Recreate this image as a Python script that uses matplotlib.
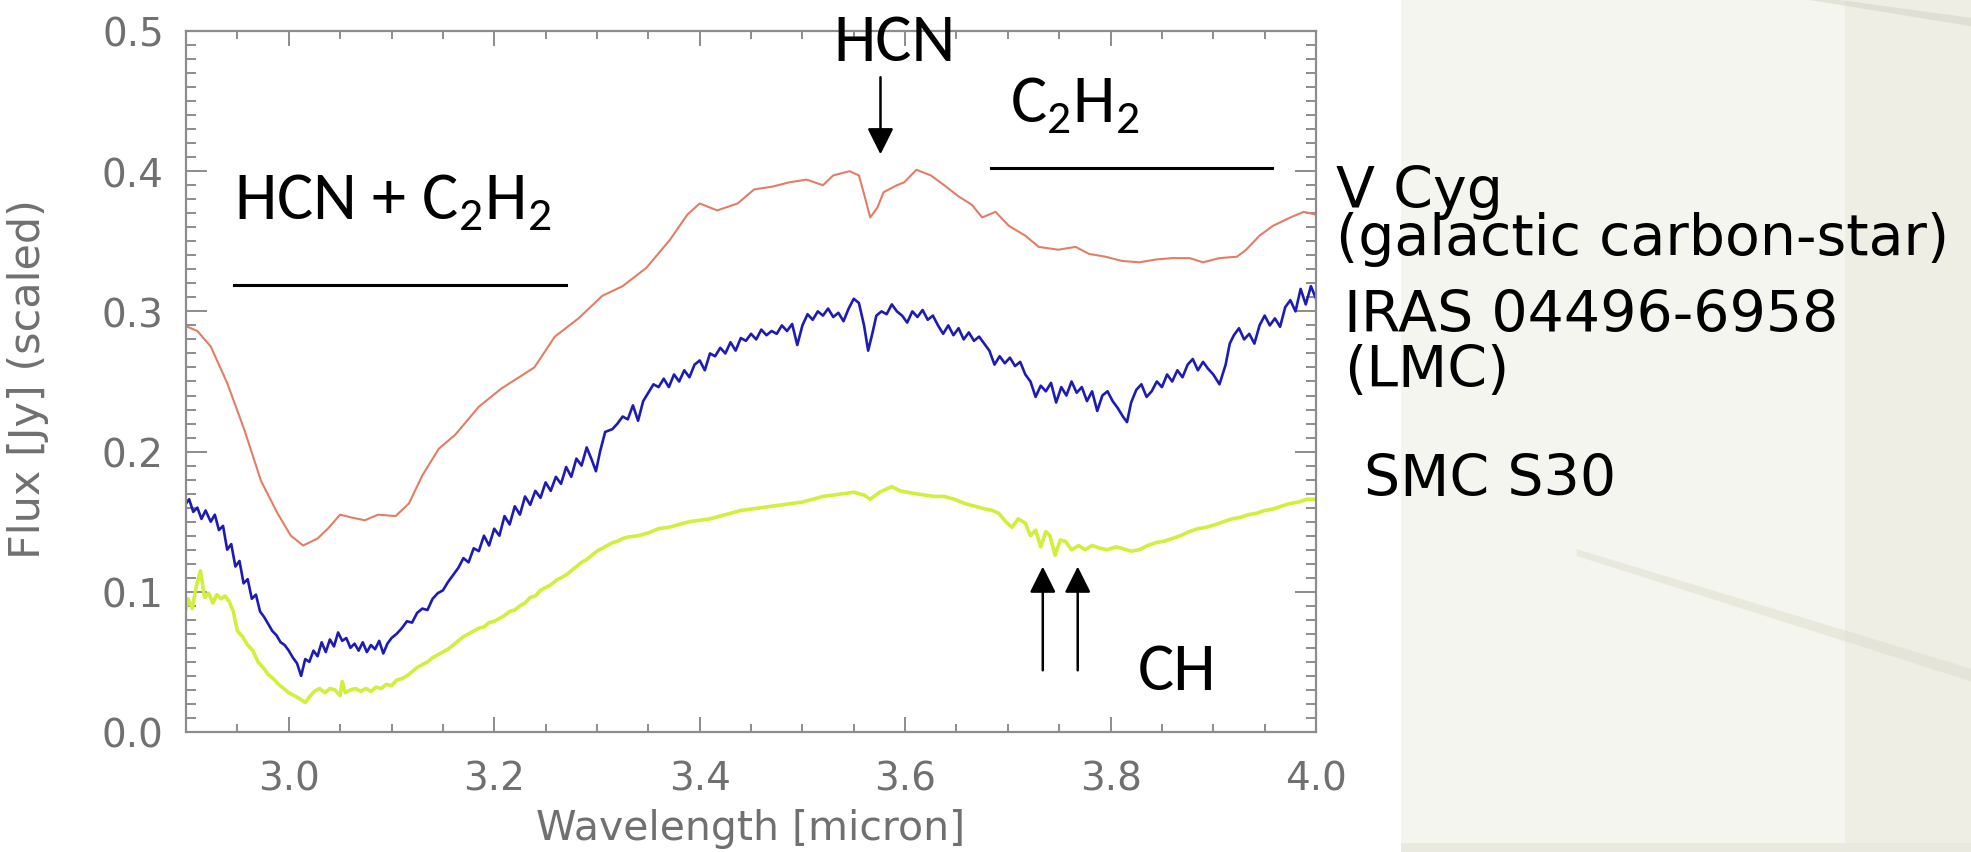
import matplotlib
matplotlib.use('Agg')
import matplotlib.pyplot as plt
from matplotlib.patches import Rectangle, Polygon
from matplotlib.ticker import MultipleLocator

# V Cyg (galactic carbon star)
vcyg_wave = [2.898, 2.911, 2.924, 2.94, 2.957, 2.973, 2.989, 3.002, 3.014, 3.028,
             3.038, 3.05, 3.061, 3.074, 3.087, 3.104, 3.117, 3.13, 3.146, 3.162,
             3.185, 3.207, 3.239, 3.259, 3.282, 3.305, 3.325, 3.348, 3.371, 3.388,
             3.4, 3.417, 3.437, 3.453, 3.471, 3.487, 3.504, 3.52, 3.53, 3.546,
             3.555, 3.561, 3.566, 3.573, 3.579, 3.592, 3.599, 3.611, 3.625, 3.638,
             3.652, 3.665, 3.675, 3.688, 3.701, 3.717, 3.73, 3.749, 3.766, 3.779,
             3.795, 3.811, 3.828, 3.844, 3.86, 3.877, 3.89, 3.906, 3.923, 3.932,
             3.945, 3.958, 3.975, 3.988, 4.0]
vcyg_flux = [0.290, 0.286, 0.275, 0.249, 0.215, 0.179, 0.156, 0.140, 0.133, 0.138,
             0.145, 0.155, 0.153, 0.151, 0.155, 0.154, 0.163, 0.183, 0.202, 0.212,
             0.232, 0.245, 0.260, 0.282, 0.295, 0.311, 0.318, 0.331, 0.351, 0.369,
             0.377, 0.372, 0.377, 0.387, 0.389, 0.392, 0.394, 0.390, 0.397, 0.400,
             0.397, 0.381, 0.367, 0.374, 0.385, 0.390, 0.392, 0.401, 0.397, 0.390,
             0.382, 0.376, 0.367, 0.371, 0.361, 0.354, 0.346, 0.344, 0.346, 0.341,
             0.339, 0.336, 0.335, 0.337, 0.338, 0.338, 0.335, 0.338, 0.339, 0.344,
             0.354, 0.361, 0.367, 0.371, 0.369]

# IRAS 04496-6958 (LMC)
lmc_wave = [2.898, 2.903, 2.907, 2.911, 2.915, 2.919, 2.924, 2.928, 2.932, 2.936,
            2.940, 2.944, 2.948, 2.952, 2.956, 2.960, 2.964, 2.968, 2.972, 2.976,
            2.980, 2.984, 2.988, 2.992, 2.996, 3.000, 3.004, 3.008, 3.012, 3.016,
            3.020, 3.024, 3.028, 3.032, 3.036, 3.040, 3.044, 3.048, 3.052, 3.056,
            3.060, 3.064, 3.068, 3.072, 3.076, 3.080, 3.084, 3.088, 3.092, 3.096,
            3.100, 3.105, 3.110, 3.115, 3.120, 3.125, 3.130, 3.135, 3.140, 3.145,
            3.150, 3.155, 3.160, 3.165, 3.170, 3.175, 3.180, 3.185, 3.190, 3.195,
            3.200, 3.205, 3.210, 3.215, 3.220, 3.225, 3.230, 3.235, 3.240, 3.245,
            3.250, 3.255, 3.260, 3.265, 3.270, 3.275, 3.280, 3.285, 3.290, 3.295,
            3.299, 3.303, 3.308, 3.315, 3.320, 3.325, 3.330, 3.335, 3.340, 3.345,
            3.350, 3.355, 3.360, 3.365, 3.370, 3.375, 3.380, 3.385, 3.390, 3.395,
            3.400, 3.405, 3.410, 3.415, 3.420, 3.425, 3.430, 3.435, 3.440, 3.445,
            3.450, 3.455, 3.460, 3.465, 3.470, 3.475, 3.480, 3.485, 3.490, 3.495,
            3.500, 3.505, 3.510, 3.515, 3.520, 3.525, 3.530, 3.535, 3.540, 3.545,
            3.550, 3.555, 3.560, 3.564, 3.568, 3.572, 3.577, 3.582, 3.587, 3.592,
            3.597, 3.602, 3.607, 3.612, 3.617, 3.622, 3.627, 3.632, 3.637, 3.642,
            3.647, 3.652, 3.657, 3.662, 3.667, 3.672, 3.677, 3.682, 3.687, 3.692,
            3.697, 3.702, 3.707, 3.712, 3.717, 3.722, 3.727, 3.732, 3.737, 3.742,
            3.747, 3.752, 3.757, 3.762, 3.767, 3.772, 3.777, 3.782, 3.787, 3.792,
            3.797, 3.802, 3.807, 3.812, 3.816, 3.820, 3.825, 3.830, 3.835, 3.840,
            3.845, 3.850, 3.855, 3.860, 3.865, 3.870, 3.875, 3.880, 3.885, 3.890,
            3.895, 3.900, 3.906, 3.912, 3.916, 3.920, 3.925, 3.930, 3.935, 3.940,
            3.945, 3.950, 3.955, 3.960, 3.965, 3.970, 3.975, 3.980, 3.985, 3.990,
            3.995, 4.000]
lmc_flux = [0.161, 0.166, 0.157, 0.160, 0.152, 0.158, 0.150, 0.155, 0.144, 0.147,
            0.130, 0.134, 0.118, 0.122, 0.106, 0.109, 0.095, 0.098, 0.086, 0.082,
            0.077, 0.072, 0.069, 0.064, 0.062, 0.058, 0.053, 0.049, 0.040, 0.052,
            0.050, 0.058, 0.054, 0.064, 0.057, 0.066, 0.061, 0.071, 0.065, 0.067,
            0.060, 0.063, 0.058, 0.064, 0.057, 0.062, 0.059, 0.065, 0.056, 0.063,
            0.067, 0.070, 0.074, 0.079, 0.078, 0.085, 0.088, 0.087, 0.095, 0.099,
            0.101, 0.107, 0.112, 0.117, 0.124, 0.121, 0.131, 0.129, 0.140, 0.133,
            0.145, 0.140, 0.154, 0.148, 0.161, 0.155, 0.168, 0.162, 0.172, 0.167,
            0.178, 0.172, 0.182, 0.177, 0.189, 0.182, 0.195, 0.190, 0.203, 0.194,
            0.186, 0.200, 0.214, 0.216, 0.220, 0.225, 0.223, 0.233, 0.222, 0.236,
            0.242, 0.248, 0.246, 0.252, 0.246, 0.255, 0.250, 0.258, 0.253, 0.262,
            0.265, 0.258, 0.270, 0.268, 0.274, 0.270, 0.278, 0.272, 0.281, 0.279,
            0.284, 0.280, 0.287, 0.283, 0.286, 0.284, 0.290, 0.286, 0.291, 0.276,
            0.290, 0.298, 0.294, 0.300, 0.297, 0.302, 0.296, 0.299, 0.293, 0.302,
            0.309, 0.306, 0.290, 0.272, 0.284, 0.297, 0.300, 0.298, 0.305, 0.300,
            0.297, 0.292, 0.300, 0.296, 0.301, 0.294, 0.297, 0.290, 0.284, 0.290,
            0.283, 0.288, 0.280, 0.285, 0.279, 0.282, 0.277, 0.272, 0.262, 0.268,
            0.263, 0.267, 0.261, 0.264, 0.255, 0.250, 0.239, 0.247, 0.243, 0.249,
            0.235, 0.246, 0.240, 0.250, 0.242, 0.246, 0.236, 0.243, 0.229, 0.240,
            0.243, 0.236, 0.231, 0.225, 0.221, 0.235, 0.244, 0.248, 0.239, 0.243,
            0.250, 0.246, 0.255, 0.250, 0.258, 0.253, 0.262, 0.266, 0.258, 0.264,
            0.259, 0.255, 0.248, 0.262, 0.277, 0.283, 0.288, 0.280, 0.284, 0.277,
            0.290, 0.297, 0.290, 0.295, 0.289, 0.303, 0.308, 0.300, 0.316, 0.305,
            0.318, 0.309]

# SMC S30
smc_wave = [2.898, 2.902, 2.906, 2.910, 2.914, 2.918, 2.922, 2.926, 2.930, 2.934,
            2.938, 2.942, 2.946, 2.950, 2.955, 2.960, 2.965, 2.970, 2.975, 2.980,
            2.985, 2.990, 2.995, 3.000, 3.005, 3.010, 3.016, 3.020, 3.025, 3.030,
            3.035, 3.040, 3.045, 3.050, 3.052, 3.055, 3.060, 3.065, 3.070, 3.075,
            3.080, 3.085, 3.090, 3.095, 3.100, 3.105, 3.110, 3.115, 3.120, 3.125,
            3.130, 3.135, 3.140, 3.145, 3.150, 3.155, 3.160, 3.165, 3.170, 3.175,
            3.180, 3.185, 3.190, 3.195, 3.200, 3.205, 3.210, 3.215, 3.220, 3.225,
            3.230, 3.235, 3.240, 3.245, 3.250, 3.255, 3.260, 3.265, 3.270, 3.275,
            3.280, 3.285, 3.290, 3.295, 3.300, 3.305, 3.310, 3.315, 3.320, 3.325,
            3.330, 3.340, 3.350, 3.360, 3.370, 3.380, 3.390, 3.400, 3.410, 3.420,
            3.430, 3.440, 3.450, 3.460, 3.470, 3.480, 3.490, 3.500, 3.510, 3.520,
            3.530, 3.540, 3.550, 3.560, 3.566, 3.575, 3.587, 3.595, 3.602, 3.610,
            3.619, 3.628, 3.638, 3.648, 3.658, 3.668, 3.678, 3.685, 3.691, 3.698,
            3.704, 3.710, 3.717, 3.722, 3.727, 3.732, 3.737, 3.741, 3.746, 3.751,
            3.756, 3.762, 3.769, 3.775, 3.782, 3.790, 3.797, 3.805, 3.811, 3.820,
            3.828, 3.836, 3.844, 3.852, 3.860, 3.868, 3.877, 3.885, 3.893, 3.902,
            3.910, 3.918, 3.926, 3.934, 3.942, 3.950, 3.958, 3.966, 3.975, 3.983,
            3.991, 4.000]
smc_flux = [0.082, 0.095, 0.088, 0.104, 0.115, 0.096, 0.099, 0.092, 0.098, 0.095,
            0.097, 0.093, 0.086, 0.072, 0.068, 0.062, 0.058, 0.050, 0.046, 0.041,
            0.038, 0.034, 0.031, 0.028, 0.026, 0.024, 0.021, 0.025, 0.029, 0.031,
            0.028, 0.031, 0.030, 0.026, 0.036, 0.028, 0.030, 0.031, 0.029, 0.031,
            0.029, 0.032, 0.031, 0.034, 0.033, 0.037, 0.038, 0.040, 0.043, 0.046,
            0.048, 0.050, 0.053, 0.055, 0.057, 0.059, 0.062, 0.065, 0.068, 0.070,
            0.072, 0.074, 0.075, 0.078, 0.079, 0.081, 0.083, 0.086, 0.087, 0.090,
            0.092, 0.096, 0.097, 0.101, 0.103, 0.105, 0.108, 0.110, 0.112, 0.115,
            0.118, 0.121, 0.123, 0.126, 0.129, 0.131, 0.133, 0.135, 0.136, 0.138,
            0.139, 0.140, 0.142, 0.145, 0.146, 0.148, 0.150, 0.151, 0.152, 0.154,
            0.156, 0.158, 0.159, 0.160, 0.161, 0.162, 0.163, 0.164, 0.166, 0.168,
            0.169, 0.170, 0.171, 0.169, 0.166, 0.171, 0.175, 0.172, 0.171, 0.170,
            0.169, 0.168, 0.168, 0.166, 0.163, 0.161, 0.159, 0.158, 0.156, 0.150,
            0.146, 0.152, 0.149, 0.140, 0.144, 0.132, 0.143, 0.140, 0.126, 0.137,
            0.136, 0.130, 0.133, 0.130, 0.133, 0.131, 0.130, 0.132, 0.131, 0.129,
            0.130, 0.133, 0.135, 0.136, 0.138, 0.140, 0.143, 0.145, 0.146, 0.148,
            0.150, 0.152, 0.153, 0.155, 0.156, 0.158, 0.159, 0.161, 0.163, 0.164,
            0.166, 0.166]

source_labels = ['V Cyg\n(galactic carbon-star)', 'IRAS 04496-6958\n(LMC)', 'SMC S30']

GRAY = '#8c8c8c'
TXT = '#707070'
ANN = ['Carlito', 'DejaVu Sans']

fig = plt.figure(figsize=(19.71, 8.53), dpi=100)
fig.patch.set_facecolor('white')

# slide background on the right
fig.patches.append(Rectangle((0.711, 0), 0.289, 1, transform=fig.transFigure,
                             facecolor='#f5f5ef', edgecolor='none', zorder=-10))
fig.patches.append(Rectangle((0.936, 0), 0.064, 1, transform=fig.transFigure,
                             facecolor='#eeeee5', edgecolor='none', zorder=-9))
fig.patches.append(Rectangle((0.711, 0), 0.289, 0.01, transform=fig.transFigure,
                             facecolor='#e9e9df', edgecolor='none', zorder=-8))
fig.patches.append(Polygon([(0.80, 0.355), (1.0, 0.215), (1.0, 0.200), (0.80, 0.347)],
                           transform=fig.transFigure, facecolor='#dcdccd', alpha=0.5,
                           edgecolor='none', zorder=-7))
fig.patches.append(Polygon([(0.93, 1.0), (1.0, 0.978), (1.0, 0.968), (0.915, 1.0)],
                           transform=fig.transFigure, facecolor='#d2d2c4', alpha=0.5,
                           edgecolor='none', zorder=-7))

ax = fig.add_axes([0.0944, 0.1407, 0.5733, 0.8218])
ax.plot(vcyg_wave, vcyg_flux, color='#e37d66', lw=1.5)
ax.plot(lmc_wave, lmc_flux, color='#1c1cb4', lw=1.9)
ax.plot(smc_wave, smc_flux, color='#d0f03c', lw=2.6)

ax.set_xlim(2.9, 4.0)
ax.set_ylim(0.0, 0.5)
ax.xaxis.set_major_locator(MultipleLocator(0.2))
ax.xaxis.set_minor_locator(MultipleLocator(0.05))
ax.yaxis.set_major_locator(MultipleLocator(0.1))
ax.yaxis.set_minor_locator(MultipleLocator(0.01))
ax.xaxis.set_major_formatter(plt.FormatStrFormatter('%.1f'))
ax.yaxis.set_major_formatter(plt.FormatStrFormatter('%.1f'))

for s in ax.spines.values():
    s.set_color(GRAY)
    s.set_linewidth(1.6)
ax.tick_params(which='both', direction='in', top=True, right=True, color=GRAY,
               width=1.4, labelcolor=TXT, labelsize=28)
ax.tick_params(axis='x', which='major', length=11, pad=20)
ax.tick_params(axis='x', which='minor', length=6)
ax.tick_params(axis='y', which='major', length=15, pad=16)
ax.tick_params(axis='y', which='minor', length=7)

ax.set_xlabel('Wavelength [micron]', fontsize=29.5, color=TXT)
ax.set_ylabel('Flux [Jy] (scaled)', fontsize=31, color=TXT)
ax.xaxis.set_label_coords(0.5, -0.137)
ax.xaxis.label.set_va('center')
ax.yaxis.set_label_coords(-0.14, 0.505)
ax.yaxis.label.set_va('center')

# band annotations
ax.text(2.947, 0.366, 'HCN + C$_\\mathregular{2}$H$_\\mathregular{2}$', fontsize=49,
        family=ANN, va='baseline', ha='left')
ax.plot([2.947, 3.27], [0.319, 0.319], color='black', lw=2.2)
ax.text(3.59, 0.479, 'HCN', fontsize=49, family=ANN, va='baseline', ha='center',
        clip_on=False, zorder=5)
ax.annotate('', xy=(3.576, 0.412), xytext=(3.576, 0.467),
            arrowprops=dict(arrowstyle='-|>', color='black', lw=1.8,
                            mutation_scale=40, shrinkA=0, shrinkB=0))
ax.text(3.702, 0.435, 'C$_\\mathregular{2}$H$_\\mathregular{2}$', fontsize=49,
        family=ANN, va='baseline', ha='left')
ax.plot([3.684, 3.957], [0.402, 0.402], color='black', lw=2.2)
for xa in (3.734, 3.768):
    ax.annotate('', xy=(xa, 0.118), xytext=(xa, 0.044),
                arrowprops=dict(arrowstyle='-|>', color='black', lw=1.8,
                                mutation_scale=40, shrinkA=0, shrinkB=0))
ax.text(3.826, 0.031, 'CH', fontsize=49, family=ANN, va='baseline', ha='left')

# source names to the right of the plot
fig.text(0.678, 0.747, source_labels[0], fontsize=41, va='center', ha='left',
         linespacing=0.80)
fig.text(0.682, 0.597, source_labels[1], fontsize=41, va='center', ha='left',
         linespacing=1.0)
fig.text(0.692, 0.437, source_labels[2], fontsize=41, va='center', ha='left')

fig.savefig('out.png', dpi=100, facecolor=fig.get_facecolor())
